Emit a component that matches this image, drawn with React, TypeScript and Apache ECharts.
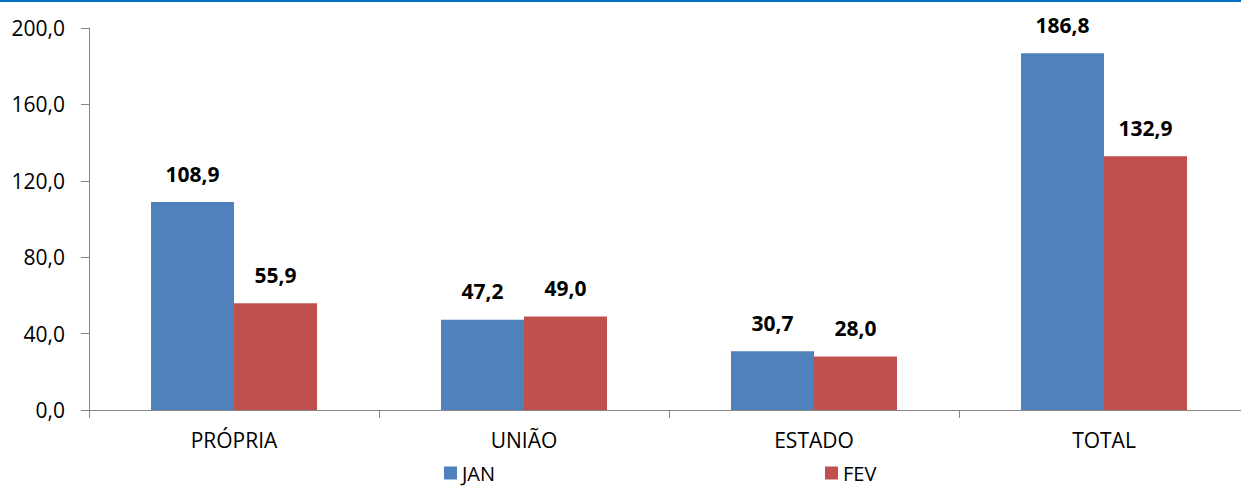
import React, { useEffect, useRef } from "react";
import * as echarts from "echarts";

const categories = ["PRÓPRIA", "UNIÃO", "ESTADO", "TOTAL"];
const janValues = [108.9, 47.2, 30.7, 186.8];
const fevValues = [55.9, 49.0, 28.0, 132.9];
const seriesNames = ["JAN", "FEV"];

const fmt = (v: number) => v.toFixed(1).replace(".", ",");
const FONT = "'Open Sans', sans-serif";

export default function App() {
  const ref = useRef<HTMLDivElement>(null);
  useEffect(() => {
    document.body.style.margin = "0";
    const chart = echarts.init(ref.current!, undefined, { renderer: "svg" });
    const labelStyle = {
      show: true,
      position: "top" as const,
      distance: 18,
      fontSize: 21,
      fontWeight: "bold" as const,
      color: "#000",
      fontFamily: FONT,
      formatter: (p: any) => fmt(p.value),
    };
    const legendCommon = {
      top: 463,
      padding: 0,
      itemWidth: 13,
      itemHeight: 13,
      icon: "rect",
      textStyle: { fontSize: 20, lineHeight: 20, color: "#000", fontFamily: FONT, padding: [0, 0, 0, 0] },
    };
    chart.setOption({
      animation: false,
      backgroundColor: "#fff",
      textStyle: { fontFamily: FONT },
      graphic: [
        { type: "rect", shape: { x: 0, y: 0, width: 1260, height: 2 }, style: { fill: "#0070C0" } },
      ],
      grid: { left: 89, top: 28, width: 1160, height: 382, containLabel: false },
      legend: [
        { ...legendCommon, data: [seriesNames[0]], left: 444 },
        { ...legendCommon, data: [seriesNames[1]], left: 825 },
      ],
      xAxis: {
        type: "category",
        data: categories,
        axisLine: { lineStyle: { color: "#868686", width: 1 } },
        axisTick: { show: true, length: 8, alignWithLabel: false, lineStyle: { color: "#868686" } },
        axisLabel: { fontSize: 21, color: "#000", margin: 19, fontFamily: FONT },
      },
      yAxis: {
        type: "value",
        min: 0,
        max: 200,
        interval: 40,
        axisLine: { show: true, lineStyle: { color: "#868686", width: 1 } },
        axisTick: { show: true, length: 8, lineStyle: { color: "#868686" } },
        splitLine: { show: false },
        axisLabel: { fontSize: 21, color: "#000", margin: 24, fontFamily: FONT, formatter: (v: number) => fmt(v) },
      },
      series: [
        {
          name: seriesNames[0],
          type: "bar",
          data: janValues,
          barWidth: 83,
          barGap: "0%",
          itemStyle: { color: "#4F81BD" },
          label: labelStyle,
        },
        {
          name: seriesNames[1],
          type: "bar",
          data: fevValues,
          barWidth: 83,
          barGap: "0%",
          itemStyle: { color: "#C0504D" },
          label: labelStyle,
        },
      ],
    });
    return () => chart.dispose();
  }, []);
  return (
    <div style={{ width: 1241, height: 487, overflow: "hidden", position: "relative" }}>
      <div ref={ref} style={{ width: 1260, height: 487 }} />
    </div>
  );
}
